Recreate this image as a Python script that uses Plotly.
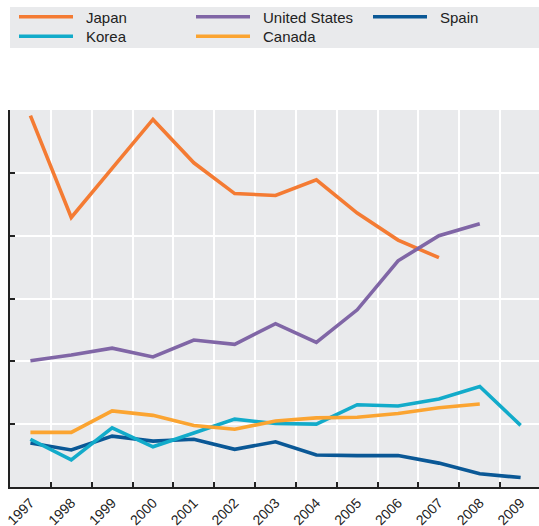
import plotly.graph_objects as go

years = ["1997", "1998", "1999", "2000", "2001", "2002", "2003",
         "2004", "2005", "2006", "2007", "2008", "2009"]

japan = [5.91, 4.29, 5.07, 5.85, 5.16, 4.67, 4.64, 4.89, 4.36, 3.93, 3.65]
united_states = [2.01, 2.10, 2.21, 2.07, 2.34, 2.27, 2.60, 2.30, 2.82, 3.60, 4.00, 4.19]
spain = [0.70, 0.59, 0.81, 0.73, 0.76, 0.60, 0.72, 0.51, 0.50, 0.50, 0.38, 0.21, 0.15]
korea = [0.76, 0.43, 0.94, 0.64, 0.86, 1.08, 1.01, 1.00, 1.31, 1.29, 1.40, 1.60, 0.98]
canada = [0.87, 0.87, 1.21, 1.14, 0.98, 0.92, 1.05, 1.10, 1.11, 1.17, 1.26, 1.32]

series_names = ["Japan", "United States", "Spain", "Korea", "Canada"]
series_values = [japan, united_states, spain, korea, canada]
series_colors = ["#F47B33", "#8066A6", "#0A5896", "#12ABCA", "#FBA431"]
# legend grid slot (row, column) for each series
legend_slots = [(0, 0), (0, 1), (0, 2), (1, 0), (1, 1)]

W, H = 539, 526
ML, MR, MT, MB = 10, 0, 110, 39
PW, PH = W - ML - MR, H - MT - MB


def px_x(px):
    return (px - ML) / PW


def px_y(py):
    return (H - MB - py) / PH


fig = go.Figure()
for name, vals, color in zip(series_names, series_values, series_colors):
    fig.add_trace(go.Scatter(
        x=years[:len(vals)], y=vals, name=name, mode="lines",
        line=dict(color=color, width=3.6), showlegend=False,
    ))

bg = "#E9EAEC"
shapes = [dict(
    type="rect", xref="paper", yref="paper",
    x0=0, x1=1, y0=px_y(48), y1=px_y(7),
    fillcolor=bg, line=dict(width=0), layer="below",
)]
annotations = []
col_x = [19, 196, 373]
row_y = [16.7, 36.2]
for name, color, (r, c) in zip(series_names, series_colors, legend_slots):
    x0 = col_x[c]
    y = row_y[r]
    shapes.append(dict(
        type="line", xref="paper", yref="paper",
        x0=px_x(x0), x1=px_x(x0 + 54), y0=px_y(y), y1=px_y(y),
        line=dict(color=color, width=3.6),
    ))
    annotations.append(dict(
        text=name, xref="paper", yref="paper",
        x=px_x(x0 + 65), y=px_y(y + 0.5), xanchor="left", yanchor="middle",
        showarrow=False, font=dict(size=15, color="#222222"),
    ))

fig.update_layout(
    template="none",
    width=W, height=H,
    margin=dict(l=ML, r=MR, t=MT, b=MB, autoexpand=False),
    paper_bgcolor="white",
    plot_bgcolor=bg,
    font=dict(family="Liberation Sans, Arial, sans-serif", size=14, color="#222222"),
    showlegend=False,
    shapes=shapes,
    annotations=annotations,
)

fig.update_xaxes(
    type="category", categoryorder="array", categoryarray=years,
    range=[-0.5, 12.45], automargin=False,
    tickson="boundaries", ticks="inside", ticklen=5, tickwidth=1.5, tickcolor="#222222",
    showgrid=True, gridcolor="white", gridwidth=1.5,
    showline=True, linecolor="#222222", linewidth=2.3,
    tickangle=-45, tickfont=dict(size=14, color="#222222"),
    zeroline=False,
)
fig.update_yaxes(
    range=[0, 6], dtick=1, tick0=0, automargin=False,
    showticklabels=False, ticks="inside", ticklen=5, tickwidth=1.5, tickcolor="#222222",
    showgrid=True, gridcolor="white", gridwidth=1.5,
    showline=True, linecolor="#222222", linewidth=2.3,
    zeroline=False,
)

fig.write_html(
    "out.html",
    config={"displayModeBar": False},
    post_script="document.body.style.margin='0';document.body.style.overflow='hidden';",
)
